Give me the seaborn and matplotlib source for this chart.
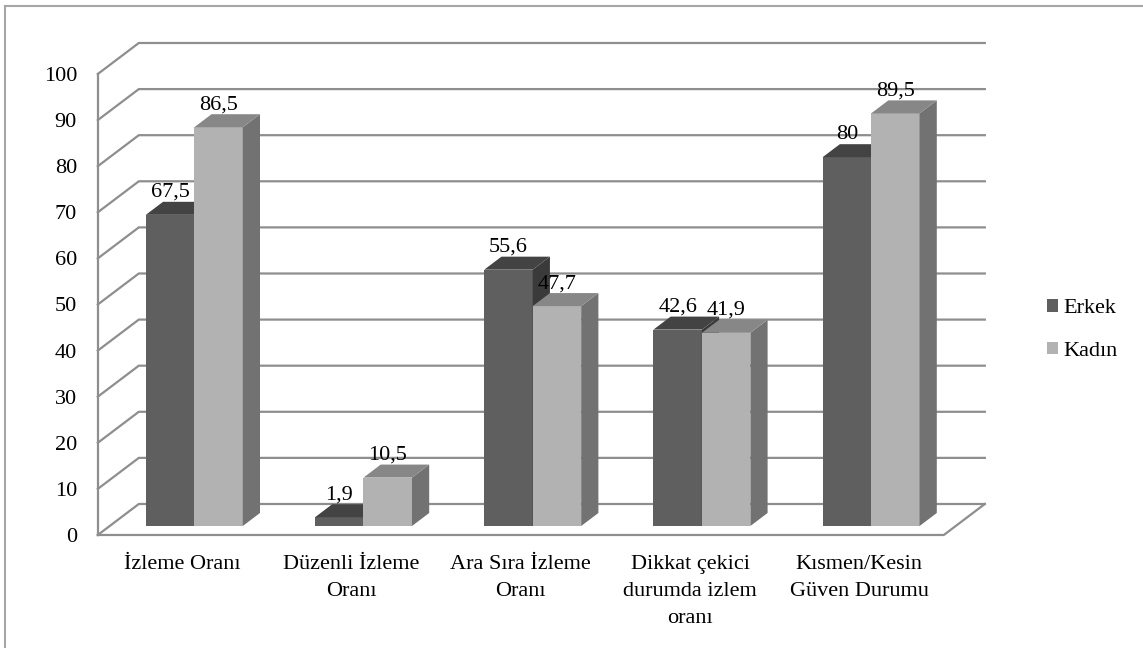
import matplotlib
matplotlib.use("Agg")
import matplotlib.pyplot as plt
from matplotlib.patches import Polygon
from matplotlib.lines import Line2D
import pandas as pd
import seaborn as sns

# ---- data ----
categories = ["İzleme Oranı", "Düzenli İzleme\nOranı", "Ara Sıra İzleme\nOranı",
              "Dikkat çekici\ndurumda izlem\noranı", "Kısmen/Kesin\nGüven Durumu"]
series_names = ["Erkek", "Kadın"]
erkek = [67.5, 1.9, 55.6, 42.6, 80]
kadin = [86.5, 10.5, 47.7, 41.9, 89.5]
y_ticks = [0, 10, 20, 30, 40, 50, 60, 70, 80, 90, 100]

front_colors = {"Erkek": "#5f5f5f", "Kadın": "#b2b2b2"}
top_colors = {"Erkek": "#434343", "Kadın": "#878787"}
side_colors = {"Erkek": "#3a3a3a", "Kadın": "#727272"}
grid_color = "#8e8e8e"
FONT = "Liberation Serif"
FS = 16

df = pd.DataFrame({
    "category": categories * 2,
    "group": [series_names[0]] * len(categories) + [series_names[1]] * len(categories),
    "value": erkek + kadin,
})

# ---- figure geometry (pixels) ----
W, H = 1143, 648
CAT_PX = 169.2        # horizontal pixels per category
UNIT_PX = 4.61        # vertical pixels per value unit
X0_PX, Y0_PX = 194.3, 526.0   # category 0 centre / value 0 on the bars' front plane
DEPTH_PX = (41.0, 31.0)       # oblique depth of the whole floor (right, up)
F0, FB = 0.29, 0.42           # bar front-face depth fraction and bar depth

DEPTH_X = DEPTH_PX[0] / CAT_PX
DEPTH_Y = DEPTH_PX[1] / UNIT_PX


def proj(xc, v, f):
    """Point at category position xc, value v and depth fraction f."""
    return xc + (f - F0) * DEPTH_X, v + (f - F0) * DEPTH_Y


fig = plt.figure(figsize=(W / 100, H / 100), dpi=100)
fig.patch.set_facecolor("white")
ax = fig.add_axes([0, 0, 1, 1])

sns.barplot(data=df, x="category", y="value", hue="group", order=categories,
            hue_order=series_names, palette=front_colors, width=0.573,
            errorbar=None, linewidth=0, ax=ax, zorder=3)

ax.set_xlim((0 - X0_PX) / CAT_PX, (W - X0_PX) / CAT_PX)
ax.set_ylim((Y0_PX - H) / UNIT_PX, Y0_PX / UNIT_PX)
ax.axis("off")

n = len(categories)
left, right = -0.5, n - 0.5
lw = 1.6

# back wall and left wall grid lines
for v in y_ticks:
    pts = [proj(left, v, 0), proj(left, v, 1), proj(right, v, 1)]
    ax.plot([p[0] for p in pts], [p[1] for p in pts], color=grid_color, lw=lw,
            zorder=1, solid_joinstyle="miter")
# left front edge
p0, p1 = proj(left, 0, 0), proj(left, y_ticks[-1], 0)
ax.plot([p0[0], p1[0]], [p0[1], p1[1]], color=grid_color, lw=lw, zorder=1)
# floor outline
floor = [proj(left, 0, 0), proj(right, 0, 0), proj(right, 0, 1)]
ax.plot([p[0] for p in floor], [p[1] for p in floor], color=grid_color, lw=lw,
        zorder=1, solid_joinstyle="miter")

# 3D faces on top of every seaborn bar
ddx, ddy = FB * DEPTH_X, FB * DEPTH_Y
for name, container in zip(series_names, ax.containers):
    z = 3 if name == series_names[0] else 4
    for bar in container:
        bar.set_zorder(z)
        x0, w, h = bar.get_x(), bar.get_width(), bar.get_height()
        side = [(x0 + w, 0), (x0 + w, h), (x0 + w + ddx, h + ddy), (x0 + w + ddx, ddy)]
        top = [(x0, h), (x0 + w, h), (x0 + w + ddx, h + ddy), (x0 + ddx, h + ddy)]
        ax.add_patch(Polygon(side, closed=True, facecolor=side_colors[name],
                             edgecolor="none", zorder=z))
        ax.add_patch(Polygon(top, closed=True, facecolor=top_colors[name],
                             edgecolor="none", zorder=z))
        label = f"{h:g}".replace(".", ",")
        ax.text(x0 + w / 2, h + ddy + 5 / UNIT_PX, label, ha="center", va="baseline",
                fontsize=FS, family=FONT, color="black", zorder=6)

# value axis labels on the front wall
for v in y_ticks:
    _, y = proj(left, v, 0)
    ax.text((77 - X0_PX) / CAT_PX, y, str(v), ha="right", va="center_baseline",
            fontsize=FS, family=FONT, color="black")

# category labels under the floor
for i, cat in enumerate(categories):
    x, y = proj(i, 0, 0)
    ax.text(x, y - 20 / UNIT_PX, cat, ha="center", va="top", fontsize=FS,
            family=FONT, color="black", linespacing=1.58, multialignment="center")

# legend
handles, labels = ax.get_legend_handles_labels()
ax.legend(handles, labels, loc="center left", bbox_to_anchor=(1047 / W, 1 - 330 / H),
          bbox_transform=fig.transFigure, frameon=False, borderpad=0,
          borderaxespad=0, handlelength=0.5, handleheight=0.5,
          handletextpad=0.25, labelspacing=1.05,
          prop={"family": FONT, "size": FS})

# chart border (left and top edges)
fig.add_artist(Line2D([5 / W, 5 / W], [0, 1 - 6 / H], transform=fig.transFigure,
                      color="#a6a6a6", lw=1.5))
fig.add_artist(Line2D([5 / W, 1], [1 - 6 / H, 1 - 6 / H], transform=fig.transFigure,
                      color="#a6a6a6", lw=1.5))

fig.savefig("out.png", dpi=100)
